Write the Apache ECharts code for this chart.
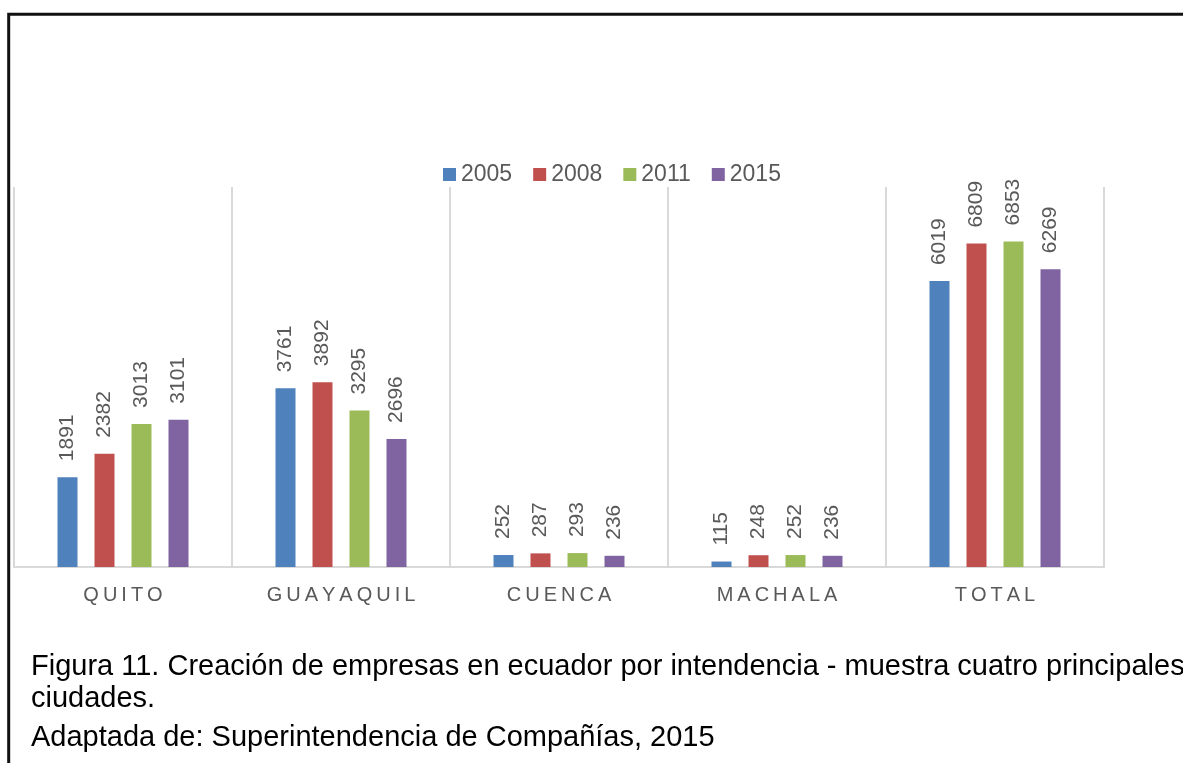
<!DOCTYPE html>
<html>
<head>
<meta charset="utf-8">
<script src="https://cdn.jsdelivr.net/npm/echarts@6/dist/echarts.min.js"></script>
<style>
  html, body { margin: 0; padding: 0; background: #fff; }
  #chart { width: 1183px; height: 763px; }
</style>
</head>
<body>
<div id="chart"></div>
<script>
// datos
const ciudades = ['QUITO', 'GUAYAQUIL', 'CUENCA', 'MACHALA', 'TOTAL']
const anios = ['2005', '2008', '2011', '2015']
const v2005 = [1891, 3761, 252, 115, 6019]
const v2008 = [2382, 3892, 287, 248, 6809]
const v2011 = [3013, 3295, 293, 252, 6853]
const v2015 = [3101, 2696, 236, 236, 6269]
const colores = ['#4f81bd', '#c0504d', '#9bbb59', '#8064a2']

const lineas = [
  'Figura 11. Creación de empresas en ecuador por intendencia - muestra cuatro principales',
  'ciudades.',
  'Adaptada de: Superintendencia de Compañías, 2015'
]

const chart = echarts.init(document.getElementById('chart'))
const font = 'Liberation Sans, Arial, sans-serif'
const valores = [v2005, v2008, v2011, v2015]

const option = {
  animation: false,
  color: colores,
  textStyle: { fontFamily: font },
  grid: { left: 14, right: 79, top: 187, bottom: 196 },
  legend: {
    data: anios,
    left: 443,
    top: 163,
    padding: 0,
    itemWidth: 13,
    itemHeight: 13,
    itemGap: 21,
    icon: 'rect',
    textStyle: { fontSize: 23, color: '#595959', fontFamily: font }
  },
  xAxis: {
    type: 'category',
    data: ciudades,
    axisLine: { lineStyle: { color: '#d9d9d9', width: 2 } },
    axisTick: { show: false },
    splitLine: { show: true, lineStyle: { color: '#d9d9d9', width: 2 } },
    axisLabel: {
      margin: 18,
      fontSize: 20,
      color: '#595959',
      // separacion de letras
      formatter: v => v.split('').join('\u2009')
    }
  },
  yAxis: {
    type: 'value',
    min: 0,
    max: 8000,
    show: false,
    splitLine: { show: false }
  },
  series: anios.map((a, i) => ({
    name: a,
    type: 'bar',
    data: valores[i],
    barWidth: 20,
    barGap: '85%',
    label: {
      show: true,
      position: 'top',
      rotate: 90,
      align: 'left',
      verticalAlign: 'middle',
      distance: 16,
      fontSize: 21,
      color: '#595959',
      fontFamily: font
    }
  })),
  graphic: [
    {
      type: 'rect',
      shape: { x: 8.7, y: 14.2, width: 1300, height: 900 },
      style: { fill: 'none', stroke: '#111', lineWidth: 3 }
    },
    {
      type: 'text', left: 31, top: 652,
      style: { text: lineas[0], fill: '#000', font: '29px ' + font }
    },
    {
      type: 'text', left: 31, top: 684,
      style: { text: lineas[1], fill: '#000', font: '29px ' + font }
    },
    {
      type: 'text', left: 31, top: 723,
      style: { text: lineas[2], fill: '#000', font: '29px ' + font }
    }
  ]
}

chart.setOption(option)
</script>
</body>
</html>
